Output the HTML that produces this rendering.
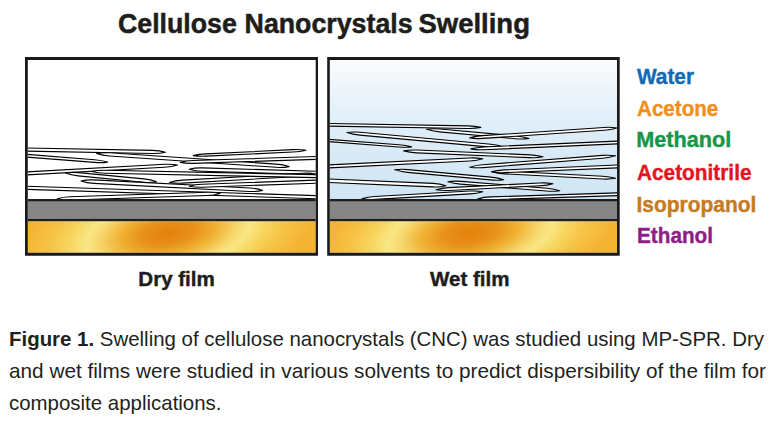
<!DOCTYPE html>
<html><head><meta charset="utf-8"><style>
html,body{margin:0;padding:0;background:#fff;width:781px;height:427px;overflow:hidden}
svg{position:absolute;left:0;top:0}
</style></head><body>
<svg width="781" height="427" viewBox="0 0 781 427">
<defs>
<radialGradient id="gold" gradientUnits="userSpaceOnUse" cx="0" cy="0" r="1" gradientTransform="translate(168 233) skewX(-31) scale(140 70)">
<stop offset="0" stop-color="#e3800a"/>
<stop offset="0.18" stop-color="#e8911a"/>
<stop offset="0.33" stop-color="#f0b234"/>
<stop offset="0.48" stop-color="#f7d96f"/>
<stop offset="0.56" stop-color="#f9e684"/>
<stop offset="0.66" stop-color="#f8d863"/>
<stop offset="0.8" stop-color="#f6c447"/>
<stop offset="1" stop-color="#f5b332"/>
</radialGradient>
<radialGradient id="gold2" gradientUnits="userSpaceOnUse" cx="0" cy="0" r="1" gradientTransform="translate(470 233) skewX(-31) scale(140 70)">
<stop offset="0" stop-color="#e3800a"/>
<stop offset="0.18" stop-color="#e8911a"/>
<stop offset="0.33" stop-color="#f0b234"/>
<stop offset="0.48" stop-color="#f7d96f"/>
<stop offset="0.56" stop-color="#f9e684"/>
<stop offset="0.66" stop-color="#f8d863"/>
<stop offset="0.8" stop-color="#f6c447"/>
<stop offset="1" stop-color="#f5b332"/>
</radialGradient>
<linearGradient id="water" x1="0" y1="60" x2="0" y2="199" gradientUnits="userSpaceOnUse">
<stop offset="0" stop-color="#fafcfe"/>
<stop offset="0.144" stop-color="#f1f7fb"/>
<stop offset="0.43" stop-color="#e0eef8"/>
<stop offset="1" stop-color="#d0e5f4"/>
</linearGradient>
<clipPath id="c1"><rect x="27.8" y="59.9" width="287.90" height="139.5"/></clipPath>
<clipPath id="c2"><rect x="329.8" y="59.9" width="287.20" height="139.5"/></clipPath>
</defs>
<!-- box 1 -->
<rect x="27.8" y="59.9" width="287.90" height="139.5" fill="#fff"/>
<g clip-path="url(#c1)" fill="#fff" stroke="#000" stroke-width="1.1" stroke-linejoin="round">
<path d="M10.00 149.30Q15.82 150.96 22.97 151.09L152.37 153.51Q159.52 153.64 165.40 152.20Q159.58 150.54 152.43 150.41L23.03 147.99Q15.88 147.86 10.00 149.30Z"/>
<path d="M10.00 154.40Q15.73 156.21 22.85 156.77L94.43 162.42Q101.56 162.99 107.50 162.10Q101.77 160.29 94.65 159.73L23.07 154.08Q15.94 153.51 10.00 154.40Z"/>
<path d="M96.60 153.50Q102.33 155.49 109.46 155.98L275.92 167.31Q283.05 167.80 289.00 166.60Q283.27 164.61 276.14 164.12L109.68 152.79Q102.55 152.30 96.60 153.50Z"/>
<path d="M10.00 174.30Q15.92 175.48 23.06 175.09L164.70 167.31Q171.84 166.92 177.60 165.10Q171.68 163.92 164.54 164.31L22.90 172.09Q15.76 172.48 10.00 174.30Z"/>
<path d="M65.40 173.00Q71.06 175.20 78.18 175.89L143.50 182.19Q150.62 182.88 156.60 181.80Q150.94 179.60 143.82 178.91L78.50 172.61Q71.38 171.92 65.40 173.00Z"/>
<path d="M81.00 181.00Q86.75 183.05 93.89 183.42L249.53 191.48Q256.67 191.85 262.60 190.40Q256.85 188.35 249.71 187.98L94.07 179.92Q86.93 179.55 81.00 181.00Z"/>
<path d="M10.00 187.30Q15.80 189.04 22.94 189.27L321.96 198.93Q329.10 199.16 335.00 197.80Q329.20 196.06 322.06 195.83L23.04 186.17Q15.90 185.94 10.00 187.30Z"/>
<path d="M57.20 198.80Q63.10 200.21 70.25 199.98L207.06 195.52Q214.21 195.29 220.00 193.50Q214.10 192.09 206.95 192.32L70.14 196.78Q62.99 197.01 57.20 198.80Z"/>
<path d="M193.30 155.60Q199.20 156.47 206.34 156.13L293.07 151.97Q300.21 151.63 306.00 150.20Q300.10 149.33 292.96 149.67L206.23 153.83Q199.09 154.17 193.30 155.60Z"/>
<path d="M189.20 169.20Q195.00 171.07 202.14 171.28L321.96 174.82Q329.10 175.03 335.00 173.50Q329.20 171.63 322.06 171.42L202.24 167.88Q195.10 167.67 189.20 169.20Z"/>
<path d="M169.50 182.40Q175.43 183.56 182.56 183.15L303.11 176.24Q310.25 175.83 316.00 174.00Q310.07 172.84 302.94 173.25L182.39 180.16Q175.25 180.57 169.50 182.40Z"/>
<path d="M189.20 186.20Q195.10 187.49 202.25 187.24L322.06 182.96Q329.21 182.71 335.00 181.00Q329.10 179.71 321.95 179.96L202.14 184.24Q194.99 184.49 189.20 186.20Z"/>
<path d="M180.30 162.40Q186.19 163.61 193.34 163.37L322.05 159.13Q329.20 158.89 335.00 157.30Q329.11 156.09 321.96 156.33L193.25 160.57Q186.10 160.81 180.30 162.40Z"/>
<path d="M92.00 171.50Q97.82 173.12 104.97 173.27L321.97 177.73Q329.12 177.88 335.00 176.50Q329.18 174.88 322.03 174.73L105.03 170.27Q97.88 170.12 92.00 171.50Z"/>
</g>
<rect x="27.8" y="199" width="287.90" height="2.7" fill="#1e1e1e"/>
<rect x="27.8" y="201.7" width="287.90" height="17" fill="#868686"/>
<rect x="27.8" y="218.7" width="287.90" height="2.8" fill="#1e1e1e"/>
<rect x="27.8" y="221.5" width="287.90" height="31.20" fill="url(#gold)"/>
<path fill="#1a1a1a" fill-rule="evenodd" d="M25 57H318V255.7H25Z M27.8 59.9V252.7H315.7V59.9Z"/>
<!-- box 2 -->
<rect x="329.8" y="59.9" width="287.20" height="139.5" fill="url(#water)"/>
<g clip-path="url(#c2)" fill="#fff" stroke="#000" stroke-width="1.1" stroke-linejoin="round">
<path d="M310.00 124.50Q315.83 125.90 322.98 126.02L467.78 128.48Q474.93 128.60 480.80 127.40Q474.97 126.00 467.82 125.88L323.02 123.42Q315.87 123.30 310.00 124.50Z"/>
<path d="M347.00 132.50Q352.70 134.43 359.82 135.08L490.63 147.10Q497.75 147.76 503.70 146.90Q498.00 144.97 490.88 144.32L360.07 132.30Q352.95 131.64 347.00 132.50Z"/>
<path d="M426.60 129.30Q432.30 131.22 439.42 131.86L515.93 138.73Q523.05 139.37 529.00 138.50Q523.30 136.58 516.18 135.94L439.67 129.07Q432.55 128.43 426.60 129.30Z"/>
<path d="M310.00 139.00Q315.75 140.55 322.88 141.10L398.65 146.99Q405.78 147.54 411.70 146.90Q405.95 145.35 398.82 144.80L323.05 138.91Q315.92 138.36 310.00 139.00Z"/>
<path d="M403.70 150.90Q409.49 152.55 416.63 152.85L529.95 157.65Q537.10 157.95 543.00 156.80Q537.21 155.15 530.07 154.85L416.75 150.05Q409.60 149.75 403.70 150.90Z"/>
<path d="M469.80 137.90Q475.73 138.90 482.86 138.42L604.12 130.27Q611.26 129.79 617.00 128.00Q611.07 127.00 603.94 127.48L482.68 135.63Q475.54 136.11 469.80 137.90Z"/>
<path d="M470.80 148.90Q476.71 150.04 483.85 149.73L627.07 143.47Q634.22 143.15 640.00 141.50Q634.09 140.36 626.95 140.67L483.73 146.93Q476.58 147.25 470.80 148.90Z"/>
<path d="M310.00 167.30Q315.92 168.51 323.06 168.16L469.89 160.94Q477.03 160.59 482.80 158.80Q476.88 157.59 469.74 157.94L322.91 165.16Q315.77 165.51 310.00 167.30Z"/>
<path d="M469.80 167.20Q475.74 168.14 482.87 167.58L602.75 158.21Q609.88 157.65 615.60 155.80Q609.66 154.86 602.53 155.42L482.65 164.79Q475.52 165.35 469.80 167.20Z"/>
<path d="M394.70 169.80Q400.40 171.72 407.52 172.37L490.63 179.92Q497.75 180.57 503.70 179.70Q498.00 177.78 490.88 177.13L407.77 169.58Q400.65 168.93 394.70 169.80Z"/>
<path d="M491.70 171.80Q497.47 173.50 504.61 173.88L602.54 179.02Q609.68 179.39 615.60 178.30Q609.83 176.60 602.69 176.22L504.76 171.08Q497.62 170.71 491.70 171.80Z"/>
<path d="M491.50 171.80Q497.40 172.95 504.55 172.65L627.07 167.45Q634.21 167.15 640.00 165.50Q634.10 164.35 626.95 164.65L504.43 169.85Q497.29 170.15 491.50 171.80Z"/>
<path d="M310.00 180.00Q315.77 181.99 322.92 182.29L432.94 186.90Q440.08 187.20 446.00 185.70Q440.23 183.71 433.08 183.41L323.06 178.80Q315.92 178.50 310.00 180.00Z"/>
<path d="M447.90 181.70Q453.62 183.56 460.75 184.14L546.73 191.05Q553.86 191.63 559.80 190.70Q554.08 188.84 546.95 188.26L460.97 181.35Q453.84 180.77 447.90 181.70Z"/>
<path d="M436.00 189.70Q441.91 190.80 449.05 190.43L539.99 185.76Q547.13 185.40 552.90 183.70Q546.99 182.60 539.85 182.97L448.91 187.64Q441.77 188.00 436.00 189.70Z"/>
<path d="M361.90 198.70Q367.82 199.76 374.96 199.35L469.90 193.85Q477.04 193.44 482.80 191.70Q476.88 190.64 469.74 191.05L374.80 196.55Q367.66 196.96 361.90 198.70Z"/>
<path d="M477.80 198.70Q483.69 199.91 490.84 199.68L627.05 195.32Q634.20 195.09 640.00 193.50Q634.11 192.29 626.96 192.52L490.75 196.88Q483.60 197.11 477.80 198.70Z"/>
</g>
<rect x="329.8" y="199" width="287.20" height="2.7" fill="#1e1e1e"/>
<rect x="329.8" y="201.7" width="287.20" height="17" fill="#868686"/>
<rect x="329.8" y="218.7" width="287.20" height="2.8" fill="#1e1e1e"/>
<rect x="329.8" y="221.5" width="287.20" height="31.20" fill="url(#gold2)"/>
<path fill="#1a1a1a" fill-rule="evenodd" d="M327.2 57H619.7V255.7H327.2Z M329.8 59.9V252.7H617V59.9Z"/>
<!-- text -->
<g font-family="'Liberation Sans', sans-serif" font-weight="bold">
<g font-size="28.2" stroke="#1d1d1b" stroke-width="0.5" fill="#1d1d1b">
<text x="118" y="33.4" textLength="118.8" lengthAdjust="spacingAndGlyphs">Cellulose</text>
<text x="244.6" y="33.4" textLength="168" lengthAdjust="spacingAndGlyphs">Nanocrystals</text>
<text x="418.4" y="33.4" textLength="111.6" lengthAdjust="spacingAndGlyphs">Swelling</text>
</g>
<text x="138.3" y="286.1" font-size="19.4" stroke="#1d1d1b" stroke-width="0.4" fill="#1d1d1b" textLength="76.5" lengthAdjust="spacingAndGlyphs">Dry film</text>
<text x="430" y="286.1" font-size="19.4" stroke="#1d1d1b" stroke-width="0.4" fill="#1d1d1b" textLength="79.5" lengthAdjust="spacingAndGlyphs">Wet film</text>
<g font-size="21.5" stroke-width="0.4">
<text x="637" y="83.8" fill="#116ab3" stroke="#116ab3" textLength="57" lengthAdjust="spacingAndGlyphs">Water</text>
<text x="637" y="115.8" fill="#f08f1d" stroke="#f08f1d" textLength="81.3" lengthAdjust="spacingAndGlyphs">Acetone</text>
<text x="636.3" y="147.2" fill="#17954a" stroke="#17954a" textLength="95" lengthAdjust="spacingAndGlyphs">Methanol</text>
<text x="637" y="179.5" fill="#e3151f" stroke="#e3151f" textLength="114.5" lengthAdjust="spacingAndGlyphs">Acetonitrile</text>
<text x="636.4" y="211.8" fill="#c67b1f" stroke="#c67b1f" textLength="120" lengthAdjust="spacingAndGlyphs">Isopropanol</text>
<text x="637" y="242.7" fill="#8d1e83" stroke="#8d1e83" textLength="76" lengthAdjust="spacingAndGlyphs">Ethanol</text>
</g>
</g>
<g font-family="'Liberation Sans', sans-serif" font-size="21" fill="#231f20">
<text x="9" y="345.8" textLength="755" lengthAdjust="spacingAndGlyphs"><tspan font-weight="bold">Figure 1.</tspan> Swelling of cellulose nanocrystals (CNC) was studied using MP-SPR. Dry</text>
<text x="9" y="377.7" textLength="757" lengthAdjust="spacingAndGlyphs">and wet films were studied in various solvents to predict dispersibility of the film for</text>
<text x="9" y="409.7" textLength="212.5" lengthAdjust="spacingAndGlyphs">composite applications.</text>
</g>
</svg>
</body></html>
